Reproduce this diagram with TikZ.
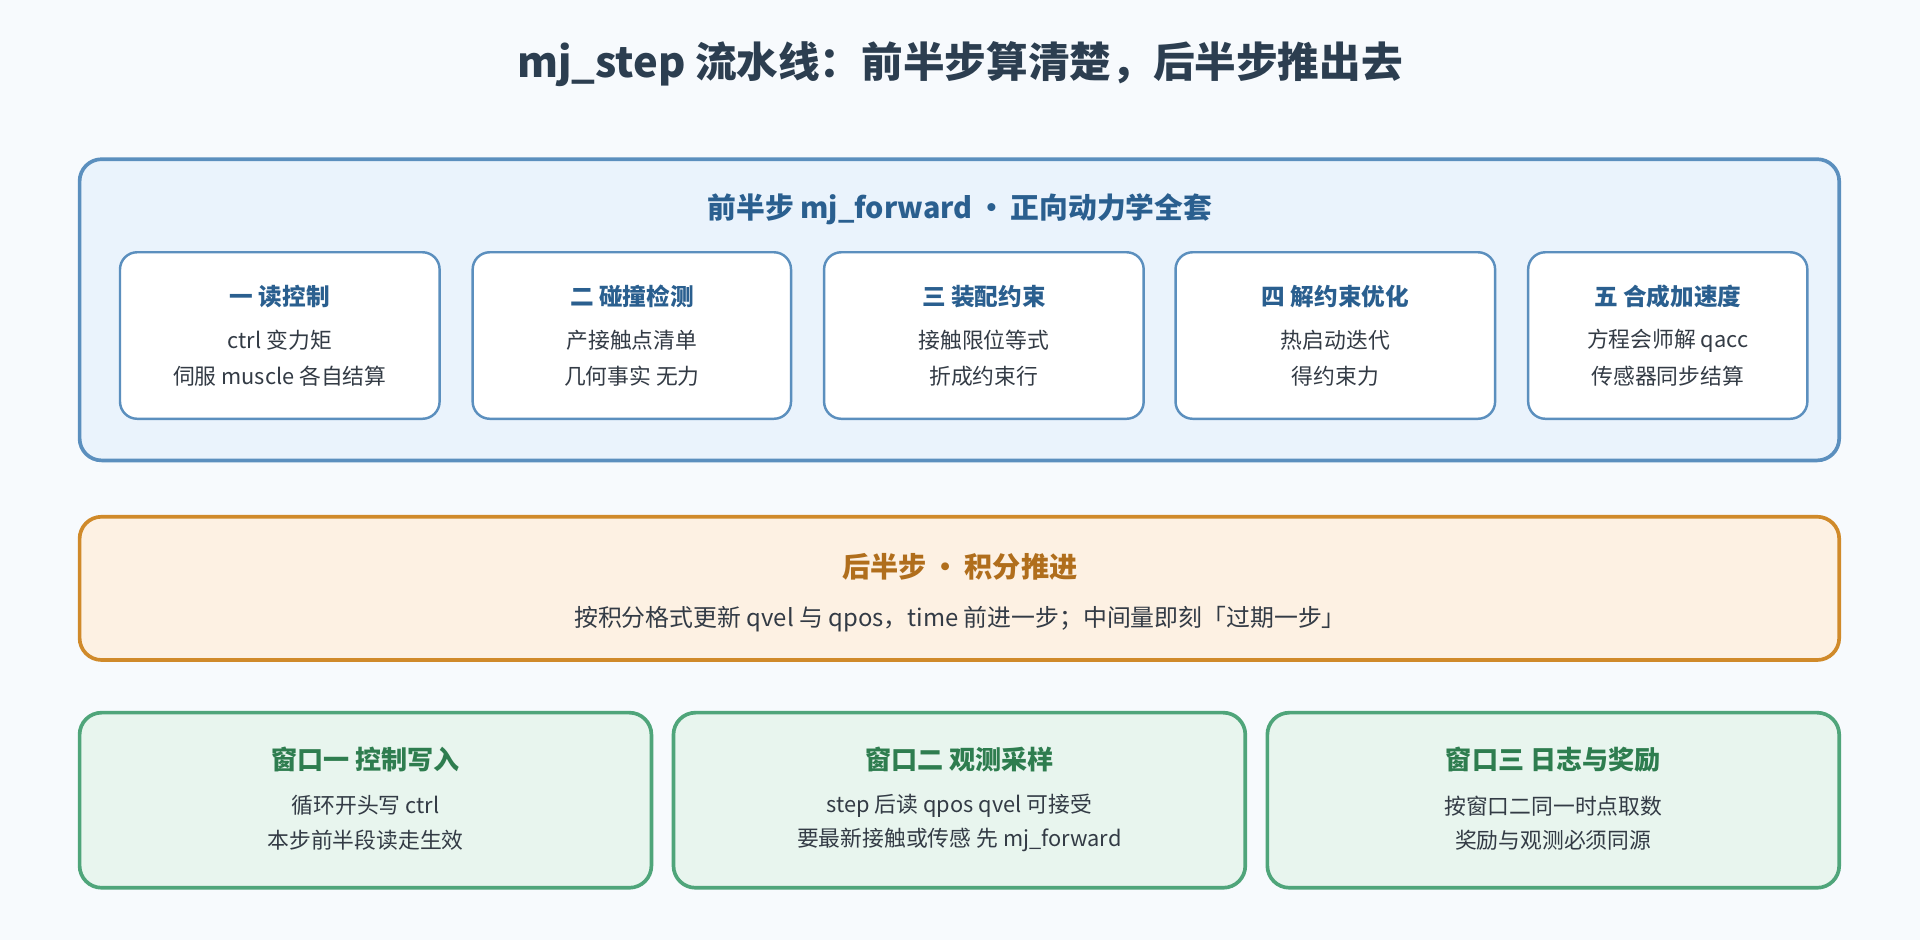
\documentclass[tikz,border=0pt]{standalone}
\usepackage{fontspec}
\setmainfont{Noto Sans CJK SC}
\begin{document}
\begin{tikzpicture}[x=1pt,y=-1pt,
  bluebox/.style={draw=bluebd,fill=bluebg,line width=3pt,rounded corners=18pt},
  inner/.style={draw=bluebd,fill=white,line width=2pt,rounded corners=14pt},
  orbox/.style={draw=orbd,fill=orbg,line width=3pt,rounded corners=18pt},
  grbox/.style={draw=grbd,fill=grbg,line width=3pt,rounded corners=18pt},
  body/.style={font=\fontsize{17.8}{21}\selectfont,text=bodyc},
  bhead/.style={font=\fontsize{19.3}{23}\selectfont\bfseries,text=bluet},
  ghead/.style={font=\fontsize{21.3}{25}\selectfont\bfseries,text=greent}]
\definecolor{bg}{HTML}{F7FAFD}
\definecolor{bluebd}{HTML}{5B8FBE}
\definecolor{bluebg}{HTML}{EAF3FC}
\definecolor{bluet}{HTML}{2A5F8F}
\definecolor{orbd}{HTML}{D08A2A}
\definecolor{orbg}{HTML}{FDF1E3}
\definecolor{ort}{HTML}{B06E1C}
\definecolor{grbd}{HTML}{4FA57A}
\definecolor{grbg}{HTML}{E8F5EE}
\definecolor{greent}{HTML}{2E7D4F}
\definecolor{bodyc}{HTML}{333B45}
\definecolor{titlec}{HTML}{2C3E50}
\fill[bg] (0,0) rectangle (1568,768);
\useasboundingbox (0,0) rectangle (1568,768);
\node[font=\fontsize{34}{40}\selectfont\bfseries,text=titlec] (title) at (784,52) {mj\_step 流水线：前半步算清楚，后半步推出去};
% forward box
\draw[bluebox] (65,130) rectangle (1502,376);
\node[font=\fontsize{23.5}{28}\selectfont\bfseries,text=bluet] (fwd) at (784,171) {前半步 mj\_forward\,•\,正向动力学全套};
\foreach \n/\a/\b/\t/\l/\m in {
  s1/98/359/一 读控制/ctrl 变力矩/伺服 muscle 各自结算,
  s2/386/646/二 碰撞检测/产接触点清单/几何事实 无力,
  s3/673/934/三 装配约束/接触限位等式/折成约束行,
  s4/960/1221/四 解约束优化/热启动迭代/得约束力,
  s5/1248/1476/五 合成加速度/方程会师解 qacc/传感器同步结算}{
  \draw[inner] (\a,206) rectangle (\b,342);
  \node[bhead] (\n h) at ({(\a+\b)/2},242) {\t};
  \node[body] (\n a) at ({(\a+\b)/2},278) {\l};
  \node[body] (\n b) at ({(\a+\b)/2},307) {\m};
}
% integration box
\draw[orbox] (65,422) rectangle (1502,539);
\node[font=\fontsize{23}{28}\selectfont\bfseries,text=ort] (int) at (784,463) {后半步\,•\,积分推进};
\node[body,font=\fontsize{19.5}{23}\selectfont] (intb) at (784,506) {按积分格式更新 qvel 与 qpos，time 前进一步；中间量即刻「过期一步」};
% windows
\foreach \n/\a/\b/\t/\l/\m in {
  w1/65/532/窗口一 控制写入/循环开头写 ctrl/本步前半段读走生效,
  w2/550/1017/窗口二 观测采样/step 后读 qpos qvel 可接受/要最新接触或传感 先 mj\_forward,
  w3/1035/1502/窗口三 日志与奖励/按窗口二同一时点取数/奖励与观测必须同源}{
  \draw[grbox] (\a,582) rectangle (\b,725);
  \node[ghead] (\n h) at ({(\a+\b)/2},620) {\t};
  \node[body] (\n a) at ({(\a+\b)/2},658) {\l};
  \node[body] (\n b) at ({(\a+\b)/2},686) {\m};
}
\end{tikzpicture}
\end{document}
